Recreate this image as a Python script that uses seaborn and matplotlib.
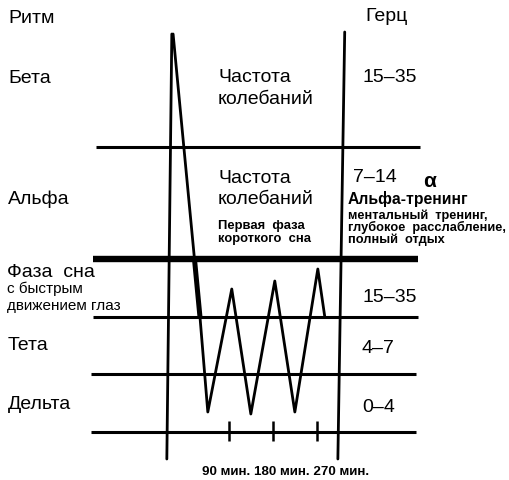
import matplotlib
matplotlib.use("Agg")
import matplotlib.pyplot as plt
import seaborn as sns
import pandas as pd
from matplotlib.patches import Rectangle

sns.set_theme(style="white")
plt.rcParams['font.family'] = ['Liberation Sans', 'DejaVu Sans']

# Sleep trace: time in minutes against rhythm depth (higher = faster rhythm)
minutes = [-24, 31, 47, 96, 135, 184, 225, 272, 286]
level = [398, 115, 20, 143, 18, 151, 20, 163, 116]

# Band boundaries (depth units) between Beta / Alpha / REM / Theta / Delta
band_edges = [285, 173, 115, 58, 0]
edge_widths = [2.2, 4.6, 2.2, 2.2, 2.2]
edge_start = [-182, -188, -188, -192, -192]
edge_end = [481, 477, 477, 472, 472]

tick_minutes = [90, 180, 270]
tick_labels = ["90 мин.", "180 мин.", "270 мин."]

rhythms = ["Бета", "Альфа", "Тета", "Дельта"]
hertz = ["15–35", "7–14", "15–35", "4–7", "0–4"]

W, H = 509, 481
fig = plt.figure(figsize=(W / 100, H / 100), dpi=100)
ax = fig.add_axes([0, 0, 1, 1])
ax.set_xlim(-378, 663)
ax.set_ylim(-48, 433)
ax.axis("off")

# horizontal band boundaries
for y, lw, x0, x1 in zip(band_edges, edge_widths, edge_start, edge_end):
    ax.hlines(y, x0, x1, color="black", lw=lw)

# the two (slightly slanted) vertical frame lines
ax.plot([-26.6, -36.8], [398, -27], color="black", lw=2.0)
ax.plot([327, 313], [400, -27], color="black", lw=2.0)

# time ticks on the bottom line
ax.vlines(tick_minutes, -9, 11, color="black", lw=1.8)

# the sleep trace
trace = pd.DataFrame({"min": minutes, "level": level})
sns.lineplot(data=trace, x="min", y="level", sort=False, estimator=None,
             color="black", lw=2.0, ax=ax)
# heavier stroke where the trace crosses the REM band
heavy = sns.lineplot(data=trace.iloc[:2], x="min", y="level", sort=False,
                     estimator=None, color="black", lw=3.6, ax=ax)
clip = Rectangle((-378, band_edges[2]), 1041, band_edges[1] - band_edges[2],
                 transform=ax.transData)
heavy.lines[-1].set_clip_path(clip)
ax.set_xlabel("")
ax.set_ylabel("")


def put(x, y, s, size, weight="normal", **kw):
    fig.text(x / W, 1 - y / H, s, fontsize=size, fontweight=weight,
             va="baseline", ha="left", color="black", **kw)


BIG = 14

# left column: rhythm names
put(8, 23, "Ритм", BIG)
put(8, 83, rhythms[0], BIG)
put(8, 204, rhythms[1], BIG)
put(7, 277, "Фаза  сна", BIG)
put(7, 293, "с быстрым", 11)
put(7, 310, "движением глаз", 11)
put(8, 350, rhythms[2], BIG)
put(8, 409, rhythms[3], BIG)

# right column: frequencies
put(365, 21, "Герц", BIG)
put(363, 82, hertz[0], BIG)
put(353, 182, hertz[1], BIG)
put(423, 187, "α", 15, "bold")
put(348, 204, "Альфа-тренинг", 11.3, "bold")
put(348, 219, "ментальный  тренинг,", 9.2, "bold")
put(348, 231, "глубокое  расслабление,", 9.2, "bold")
put(348, 243, "полный  отдых", 9.2, "bold")
put(363, 302, hertz[2], BIG)
put(362, 353, hertz[3], BIG)
put(362, 412, hertz[4], BIG)

# middle annotations
put(218, 82, "Частота", BIG)
put(218, 104, "колебаний", BIG)
put(218, 183, "Частота", BIG)
put(218, 204, "колебаний", BIG)
put(218, 229, "Первая  фаза", 9.4, "bold")
put(218, 242, "короткого  сна", 9.4, "bold")

# time labels under the ticks
put(202, 475, " ".join(tick_labels), 9.6, "bold")

fig.savefig("out.png", dpi=100, facecolor="white")
